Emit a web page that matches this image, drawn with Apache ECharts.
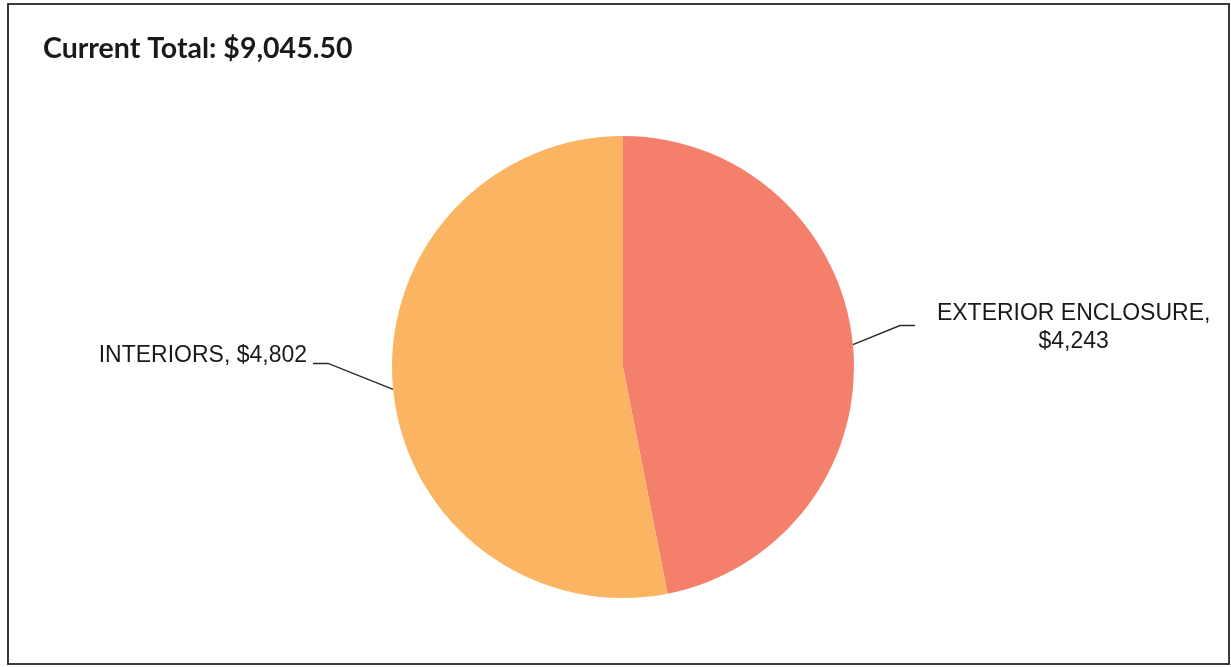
<!DOCTYPE html>
<html>
<head>
<meta charset="utf-8">
<script src="https://cdn.jsdelivr.net/npm/echarts@6/dist/echarts.min.js"></script>
<style>
  html, body { margin: 0; padding: 0; background: #fff; }
  #chart { width: 1231px; height: 667px; }
</style>
</head>
<body>
<div id="chart"></div>
<script>
const titleText = 'Current Total: $9,045.50';
const categories = ['EXTERIOR ENCLOSURE', 'INTERIORS'];
const values = [4243, 4802];
const labelBreaks = ['\n', ' '];
const colors = ['#F4806C', '#FBB562'];

const chart = echarts.init(document.getElementById('chart'), null, { renderer: 'canvas' });

function fmtMoney(v) {
  return '$' + v.toLocaleString('en-US');
}

const option = {
  animation: false,
  backgroundColor: '#ffffff',
  title: {
    text: titleText,
    left: 38,
    top: 29,
    textStyle: {
      fontFamily: 'Lato, "Open Sans", sans-serif',
      fontWeight: 'bold',
      fontSize: 28.5,
      color: '#1a1a1a'
    }
  },
  graphic: [{
    type: 'rect',
    silent: true,
    shape: { x: 8, y: 4, width: 1221, height: 660 },
    style: { fill: 'none', stroke: '#3a3a3a', lineWidth: 2 }
  }],
  series: [{
    type: 'pie',
    center: [623, 367],
    radius: 231,
    startAngle: 90,
    clockwise: true,
    silent: true,
    data: categories.map((c, i) => ({ name: c, value: values[i], itemStyle: { color: colors[i] } })),
    itemStyle: { borderWidth: 0 },
    label: {
      show: true,
      position: 'outside',
      fontFamily: '"Liberation Sans", Arial, sans-serif',
      fontSize: 23,
      lineHeight: 28,
      color: '#1a1a1a',
      formatter: p => p.name + ',' + labelBreaks[p.dataIndex] + fmtMoney(p.value)
    },
    labelLine: {
      show: true,
      length: 40,
      length2: 15,
      lineStyle: { color: '#2a2a2a', width: 1.5 }
    },
    labelLayout: function (p) {
      const pts = p.labelLinePoints;
      if (!pts) return {};
      const a = pts[0];
      const right = pts[2][0] >= a[0];
      const s = right
        ? { dx: 47, dy: -19, h: 15, gap: 22, ty: 2 }
        : { dx: -65, dy: -26, h: 15, gap: 6, ty: -8 };
      const e1 = [a[0] + s.dx, a[1] + s.dy];
      const e2 = [e1[0] + (right ? s.h : -s.h), e1[1]];
      const w = p.labelRect.width;
      return {
        x: right ? e2[0] + s.gap + w / 2 : e2[0] - s.gap - w / 2,
        y: e2[1] + s.ty,
        align: 'center',
        verticalAlign: 'middle',
        labelLinePoints: [a, e1, e2]
      };
    }
  }]
};

chart.setOption(option);
</script>
</body>
</html>
